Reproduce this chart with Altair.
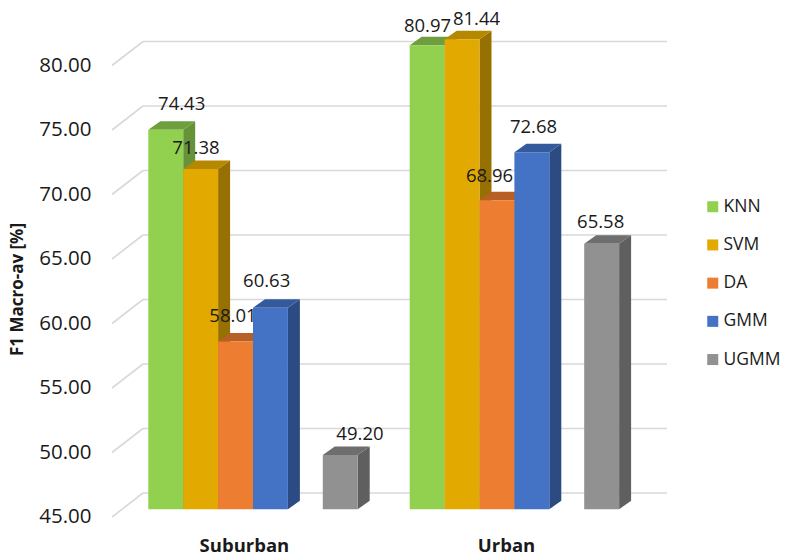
import altair as alt
import pandas as pd

# --- chart values -------------------------------------------------------
series = ["KNN", "SVM", "DA", "GMM", "UGMM"]
suburban = [74.43, 71.38, 58.01, 60.63, 49.20]
urban = [80.97, 81.44, 68.96, 72.68, 65.58]
categories = ["Suburban", "Urban"]
y_ticks = [45, 50, 55, 60, 65, 70, 75, 80]

# --- styling ------------------------------------------------------------
front_colors = ["#92d050", "#e2a900", "#ed7d31", "#4472c4", "#919191"]
top_colors = ["#6f9e3e", "#b58800", "#b85f26", "#335a9c", "#6e6e6e"]
side_colors = ["#66923a", "#967000", "#a8531f", "#2c4b82", "#5f5f5f"]
FONT = "Open Sans"
INK = "#1a1a1a"

SLOT_PX = 34.9            # width of one bar
UNIT_PX = 12.9            # pixels per percentage point
PLOT_W, PLOT_H = 555, 520
X_MAX = PLOT_W / SLOT_PX
Y_MIN = 45 - (530 - 509.3) / UNIT_PX
Y_MAX = Y_MIN + PLOT_H / UNIT_PX
GROUP_START = [1.04, 8.53]
SLOTS = [0, 1, 2, 3, 5]   # slot 4 is an empty gap
DEPTH_X = 12 / SLOT_PX
DEPTH_Y = 8.5 / UNIT_PX
WALL_X0 = 0.0
WALL_X1 = 31 / SLOT_PX
WALL_FRONT = -7.7 / UNIT_PX
WALL_BACK = 16.3 / UNIT_PX
# individual data-label nudges in pixels (x, up-positive y), per bar
label_nudge = [
    [(15.9, 25.6), (-4.7, 21.3), (-2.6, 25.4), (-3.8, 26.8), (19.7, 21.0)],
    [(0.4, 19.0), (14.5, 20.0), (-7.4, 24.0), (1.7, 25.0), (-1.0, 22.0)],
]

# --- derived tables -----------------------------------------------------
fronts, sides, tops, labels = [], [], [], []
for g, (cat, vals) in enumerate(zip(categories, [suburban, urban])):
    for i, (s, v) in enumerate(zip(series, vals)):
        x0 = GROUP_START[g] + SLOTS[i]
        x1 = x0 + 1
        bar = f"{cat}-{s}"
        fronts.append(dict(series=s, x0=x0, x1=x1, y0=45, y1=v))
        sides.append(dict(bar=bar, x=x1, y0=45, y1=v, c=side_colors[i]))
        sides.append(dict(bar=bar, x=x1 + DEPTH_X, y0=45 + DEPTH_Y, y1=v + DEPTH_Y, c=side_colors[i]))
        tops.append(dict(bar=bar, y=v, x0=x0, x1=x1, c=top_colors[i]))
        tops.append(dict(bar=bar, y=v + DEPTH_Y, x0=x0 + DEPTH_X, x1=x1 + DEPTH_X, c=top_colors[i]))
        nx, ny = label_nudge[g][i]
        labels.append(dict(x=x0 + 0.5 + nx / SLOT_PX, y=v + ny / UNIT_PX, t=f"{v:.2f}"))

grid_back = [dict(x0=WALL_X1, x1=X_MAX, y=t + WALL_BACK) for t in y_ticks]
grid_side = []
for t in y_ticks:
    grid_side.append(dict(t=t, x=WALL_X0, y=t + WALL_FRONT))
    grid_side.append(dict(t=t, x=WALL_X1, y=t + WALL_BACK))

xs = alt.Scale(domain=[0, X_MAX], nice=False, zero=False)
ys = alt.Scale(domain=[Y_MIN, Y_MAX], nice=False, zero=False)
group_centers = [GROUP_START[0] + 2.74, GROUP_START[1] + 2.76]

x_axis = alt.Axis(
    values=group_centers,
    labelExpr=f"datum.value < 8 ? '{categories[0]}' : '{categories[1]}'",
    title=None, grid=False, ticks=False, domain=False,
    labelFont=FONT, labelFontSize=18.5, labelFontWeight="bold", labelColor=INK,
    labelPadding=6, labelFlush=False, labelOverlap=False,
)
y_axis = alt.Axis(
    values=y_ticks, format=".2f", title="F1 Macro-av [%]",
    grid=False, ticks=False, domain=False,
    labelFont=FONT, labelFontSize=20.5, labelColor=INK, labelPadding=21, labelOffset=7.5,
    titleFont=FONT, titleFontSize=17, titleFontWeight="bold", titleColor=INK,
    titleX=-86, titleY=279,
)

grid_h = alt.Chart(pd.DataFrame(grid_back)).mark_rule(color="#d9d9d9", strokeWidth=1.6).encode(
    x=alt.X("x0:Q", scale=xs, axis=x_axis), x2="x1:Q",
    y=alt.Y("y:Q", scale=ys, axis=y_axis),
)
grid_d = alt.Chart(pd.DataFrame(grid_side)).mark_line(color="#d9d9d9", strokeWidth=1.6).encode(
    x=alt.X("x:Q", scale=xs), y=alt.Y("y:Q", scale=ys), detail="t:N",
)
side_layer = alt.Chart(pd.DataFrame(sides)).mark_area().encode(
    x=alt.X("x:Q", scale=xs),
    y=alt.Y("y0:Q", scale=ys, stack=None), y2="y1:Q",
    fill=alt.Fill("c:N", scale=None),
    detail="bar:N",
)
top_layer = alt.Chart(pd.DataFrame(tops)).mark_area(orient="horizontal").encode(
    y=alt.Y("y:Q", scale=ys),
    x=alt.X("x0:Q", scale=xs, stack=None), x2="x1:Q",
    fill=alt.Fill("c:N", scale=None),
    detail="bar:N",
)
front_layer = alt.Chart(pd.DataFrame(fronts)).mark_rect().encode(
    x=alt.X("x0:Q", scale=xs), x2="x1:Q",
    y=alt.Y("y0:Q", scale=ys), y2="y1:Q",
    color=alt.Color(
        "series:N",
        scale=alt.Scale(domain=series, range=front_colors),
        sort=series,
        legend=alt.Legend(
            title=None, orient="none", legendX=592, legendY=188,
            symbolType="square", symbolSize=121, symbolStrokeWidth=0,
            labelFont=FONT, labelFontSize=17.5, labelColor=INK, labelOffset=2,
            rowPadding=19.2, labelLimit=120,
        ),
    ),
)
text_layer = alt.Chart(pd.DataFrame(labels)).mark_text(
    font=FONT, fontSize=18.5, color=INK, baseline="middle", align="center"
).encode(
    x=alt.X("x:Q", scale=xs), y=alt.Y("y:Q", scale=ys), text="t:N",
)

chart = alt.layer(
    grid_h, grid_d, side_layer, top_layer, front_layer, text_layer
).properties(
    width=PLOT_W, height=PLOT_H,
    padding={"left": 104, "top": 2, "right": 115, "bottom": 28},
    autosize=alt.AutoSizeParams(type="none"),
    background="white",
).configure_view(stroke=None)

chart.save("out.html", embed_options={"renderer": "svg", "actions": False})
